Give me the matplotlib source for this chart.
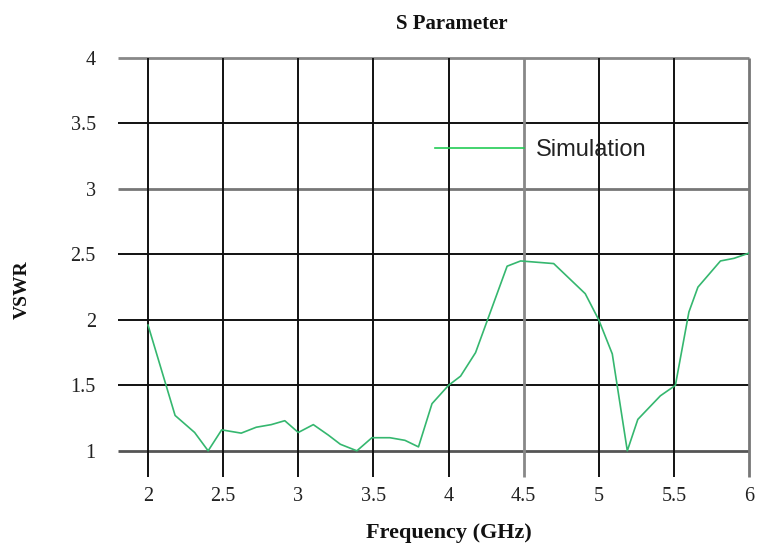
import matplotlib.pyplot as plt
import numpy as np

# --- DATOS ---
freq = [2.0, 2.18, 2.31, 2.40, 2.49, 2.62, 2.72, 2.82, 2.91, 3.0, 3.1, 3.2, 3.28, 3.39,
        3.49, 3.61, 3.71, 3.80, 3.89, 4.0, 4.08, 4.18, 4.39, 4.48, 4.70, 4.91, 5.0, 5.09,
        5.19, 5.26, 5.41, 5.51, 5.6, 5.66, 5.81, 5.9, 6.0]
vswr = [1.96, 1.27, 1.14, 1.0, 1.16, 1.135, 1.18, 1.20, 1.23, 1.14, 1.20, 1.12, 1.05, 1.0,
        1.10, 1.10, 1.08, 1.03, 1.36, 1.50, 1.57, 1.75, 2.41, 2.45, 2.43, 2.20, 2.0, 1.74,
        1.0, 1.24, 1.42, 1.50, 2.06, 2.25, 2.45, 2.47, 2.51]

x_ticks = [2, 2.5, 3, 3.5, 4, 4.5, 5, 5.5, 6]
x_labels = ["2", "2.5", "3", "3.5", "4", "4.5", "5", "5.5", "6"]
y_ticks = [1, 1.5, 2, 2.5, 3, 3.5, 4]
y_labels = ["1", "1.5", "2", "2.5", "3", "3.5", "4"]

serif = 'Liberation Serif'
sans = 'Liberation Sans'

fig = plt.figure(figsize=(7.6, 5.44), dpi=100)
ax = fig.add_axes([118 / 760, 67 / 544, 631 / 760, 419 / 544])
ax.set_xlim(1.8, 6)
ax.set_ylim(0.8, 4)

# rejilla manual (algunas lineas grises, el resto negras)
col_h = {1: '#555555', 3: '#777777', 4: '#888888'}
for y in y_ticks:
    c = col_h.get(y, '#111111')
    lw = 2.0 if y in col_h else 1.4
    ax.hlines(y, 1.8, 6, color=c, linewidth=lw, clip_on=False, zorder=1)
col_v = {4.5: '#888888', 6: '#777777'}
for x in x_ticks:
    c = col_v.get(x, '#111111')
    lw = 2.0 if x in col_v else 1.4
    ax.vlines(x, 0.8, 4, color=c, linewidth=lw, clip_on=False, zorder=1)

ax.plot(freq, vswr, color='#35b76f', linewidth=1.2, label='Simulation', zorder=3)

for s in ax.spines.values():
    s.set_visible(False)

ax.set_xticks(x_ticks)
ax.set_xticklabels(x_labels, fontfamily=serif, fontsize=14.5, color='#222222')
ax.set_yticks(y_ticks)
ax.set_yticklabels(y_labels, fontfamily=serif, fontsize=14.5, color='#222222')
ax.tick_params(axis='x', length=0, pad=7)
ax.tick_params(axis='y', length=0, pad=16)

leg = ax.legend(loc='center left', bbox_to_anchor=(0.502, 0.78), frameon=False,
                handlelength=3.8, handletextpad=0.5, borderpad=0, borderaxespad=0,
                prop={'family': sans, 'size': 17})
for t in leg.get_texts():
    t.set_color('#222222')
leg.get_lines()[0].set_color('#22cc55')

# textos
fig.text(452 / 760, 1 - 24 / 544, "S Parameter", ha='center', va='center',
         fontfamily=serif, fontweight='bold', fontsize=15, color='#111111')
fig.text(449 / 760, 1 - 533 / 544, "Frequency (GHz)", ha='center', va='center',
         fontfamily=serif, fontweight='bold', fontsize=16, color='#111111')
fig.text(22 / 760, 1 - 290 / 544, "VSWR", ha='center', va='center', rotation=90,
         fontfamily=serif, fontweight='bold', fontsize=14, color='#111111')

fig.savefig("out.png", dpi=100)
